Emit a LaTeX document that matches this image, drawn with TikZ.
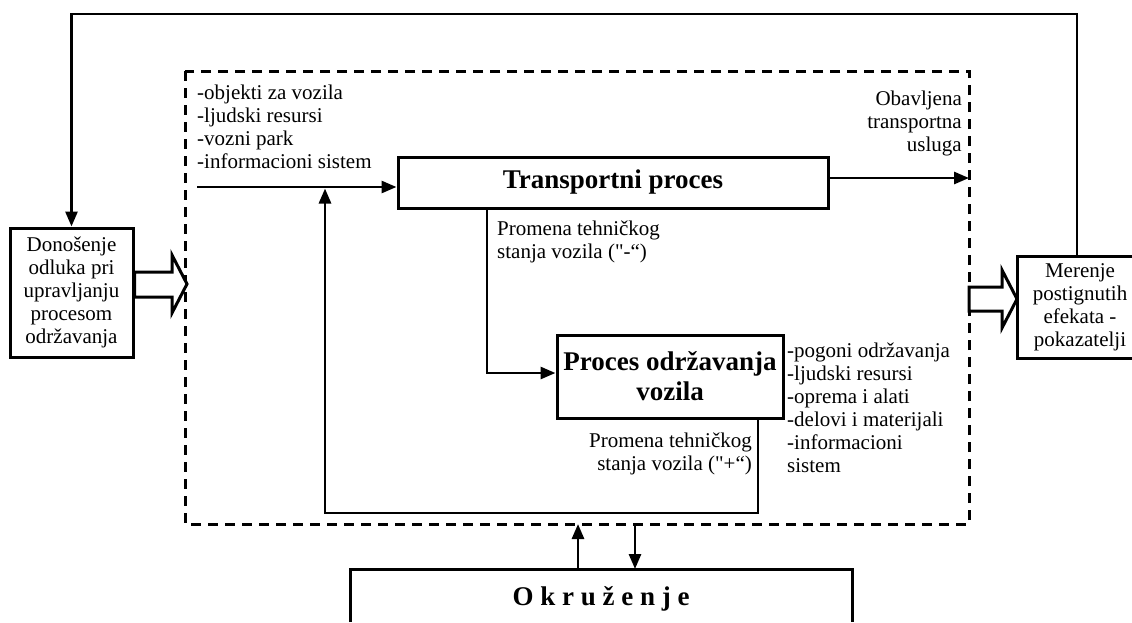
\documentclass[tikz,border=0pt]{standalone}
\usepackage{fontspec}
\setmainfont{Liberation Serif}
\newfontfamily\qfont{Liberation Serif}[Ligatures=ResetAll]
\usetikzlibrary{arrows.meta,calc}
\newcommand{\sq}{{\qfont"}}
\begin{document}
\begin{tikzpicture}[x=1pt,y=-1pt,
  every node/.style={font=\fontsize{21}{23}\selectfont, inner sep=0pt},
  box/.style={draw, line width=3pt},
  title/.style={font=\fontsize{27}{30}\selectfont\bfseries},
  conn/.style={line width=2.8pt, -{Triangle[length=15pt,width=12pt]}},
  frame/.style={line width=3pt, dash pattern=on 10pt off 7pt},
  hollow/.style={draw, line width=3pt, fill=white, line join=miter}]
\useasboundingbox (0,0) rectangle (1132,622);

% system boundary
\draw[frame] (185,71) rectangle (969,524);

% main blocks
\node[box, title, minimum width=430, minimum height=51] (trans) at (613,182.5) {Transportni proces};
\node[box, title, align=center, minimum width=226, minimum height=83] (proc) at (670,376.5) {Proces održavanja\\vozila};
\node[box, align=center, minimum width=123, minimum height=129] (dec) at (71.5,292.5)
  {Donošenje\\odluka pri\\upravljanju\\procesom\\održavanja};
\node[align=center, minimum width=124, minimum height=101] (mer) at (1080,307.5)
  {Merenje\\postignutih\\efekata -\\pokazatelji};
\draw[box] ($(mer.north west)+(114,0)$) -- (mer.north west) -- (mer.south west) -- ++(114,0);

% environment block
\node[title] (okr) at (601,599) {O k r u ž e n j e};
\coordinate (envTop) at (601,569);
\draw[box] (350,622) -- (350,569) -- (852,569) -- (852,622);

% labels
\node[anchor=north west, align=left] (resT) at (197,85)
  {-objekti za vozila\\-ljudski resursi\\-vozni park\\-informacioni sistem};
\node[anchor=north east, align=right] (outT) at (962,91)
  {Obavljena\\transportna\\usluga};
\node[anchor=north west, align=left] (chgM) at (497,221)
  {Promena tehničkog\\stanja vozila (\sq-“)};
\node[anchor=north west, align=left] (resM) at (787,343)
  {-pogoni održavanja\\-ljudski resursi\\-oprema i alati\\-delovi i materijali\\-informacioni\\sistem};
\node[anchor=north east, align=right] (chgP) at (752,433)
  {Promena tehničkog\\stanja vozila (\sq+“)};

% connector points
\coordinate (inL) at (197,187);
\coordinate (outR) at (969,178);
\coordinate (jA) at (487,373);
\coordinate (rx) at (758,513);
\coordinate (jB) at (325,188.5);
\coordinate (mx) at (1077,14);
\coordinate (e1) at (578,524);
\coordinate (e2) at (635,524);

% connectors
\draw[conn] (inL) -- (trans.west |- inL);
\draw[conn] (trans.east |- outR) -- (outR);
\draw[conn] (trans.south -| jA) |- (proc.west |- jA);
\draw[conn] (proc.south -| rx) -- (rx) -| (jB);
\draw[conn] (mer.north -| mx) -- (mx) -| (dec.north);
\draw[conn] (envTop -| e1) -- (e1);
\draw[conn] (e2) -- (envTop -| e2);

% hollow flow arrows
\draw[hollow] (dec.east |- 0,272) -- (172,272) -- (172,255) -- (187,284) -- (172,313) -- (172,297) -- (dec.east |- 0,297) -- cycle;
\draw[hollow] (969,287) -- (1002,287) -- (1002,270) -- (1017,299) -- (1002,328) -- (1002,311) -- (969,311) -- cycle;
\end{tikzpicture}
\end{document}
